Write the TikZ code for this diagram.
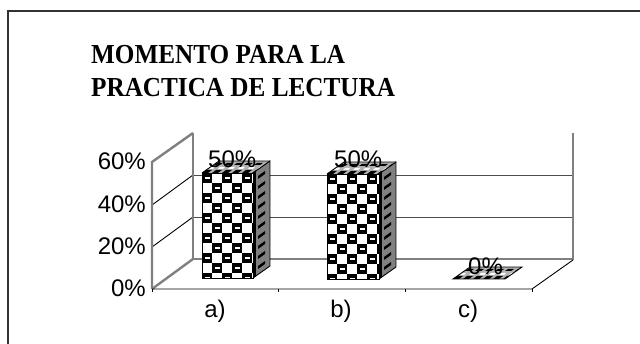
\documentclass[tikz,border=0pt]{standalone}
\usepackage{fontspec}
\setmainfont{Liberation Sans}
\newfontfamily\titlefont{Liberation Serif}
\newcommand{\chkface}[4]{%
  \begin{scope}
    \clip (#1,#2) rectangle (#3,#4);
    \fill[white] (#1,#2) rectangle (#3,#4);
    \foreach \i in {0,...,6}{%
      \foreach \j in {0,...,11}{%
        \pgfmathtruncatemacro{\cpar}{mod(\i+\j,2)}%
        \ifnum\cpar=0
          \fill[black] ({#1+\i*10},{#2+\j*10}) rectangle ++(10,10);
          \fill[white] ({#1+\i*10+3},{#2+\j*10+4}) rectangle ++(5,2);
        \fi
      }}
  \end{scope}}
\newcommand{\sideface}[3]{%
  \begin{scope}
    \clip (#1,#2) -- ++(17,-12) -- ({#1+17},{#3-12}) -- (#1,#3) -- cycle;
    \fill[gray] (#1,{#2-12}) rectangle ({#1+17},#3);
    \fill[black] (#1,{#2-12}) rectangle ({#1+3},#3);
    \foreach \j in {0,...,11}{%
      \fill[black] ({#1+5},{#2+\j*10+3}) -- ++(7,-5) -- ++(0,3) -- ++(-7,5) -- cycle;
    }
  \end{scope}}
\newcommand{\topface}[3]{%
  \begin{scope}
    \clip (#1,#3) -- (#2,#3) -- ++(17,-12) -- ({#1+17},{#3-12}) -- cycle;
    \fill[gray!60] (#1,{#3-12}) rectangle ({#2+17},#3);
    \foreach \i in {0,...,6}{%
      \fill[black] ({#1+\i*10},#3) -- ++(6,0) -- ++(4,-3) -- ++(-6,0) -- cycle;
      \fill[black] ({#1+\i*10+12},{#3-8}) -- ++(6,0) -- ++(3,-2) -- ++(-6,0) -- cycle;
      \fill[white] ({#1+\i*10+6},{#3-4}) -- ++(5,0) -- ++(2,-2) -- ++(-5,0) -- cycle;
    }
  \end{scope}}
\begin{document}
\begin{tikzpicture}[x=1pt,y=-1pt,
  wall/.style={draw=gray,line width=2.4pt},
  grid/.style={draw=black!70,line width=0.9pt},
  axisline/.style={draw=black,line width=0.9pt},
  barline/.style={draw=black,line width=0.9pt},
  lab/.style={font=\fontsize{24}{24}\selectfont,inner sep=0pt},
  ttl/.style={font=\titlefont\bfseries\fontsize{25.2}{25.2}\selectfont,inner sep=0pt}]
\useasboundingbox (0,0) rectangle (640,344);
\fill[white] (0,0) rectangle (640,344);
% frame
\draw[draw=black!80,line width=1.4pt] (8,344) -- (8,11) -- (640,11);
% title
\node[ttl,anchor=base west] (t1) at (91,64) {\scalebox{1}[1.09]{MOMENTO PARA LA}};
\node[ttl,anchor=base west] (t2) at (91,97) {\scalebox{1}[1.09]{PRACTICA DE LECTURA}};
% back wall grid
\draw[grid] (193,217) -- (573,217);
\draw[grid] (193,175) -- (573,175);
% left wall grid diagonals
\draw[grid,draw=black] (152,247) -- (193,217);
\draw[grid,draw=black] (152,205) -- (193,175);
% walls
\draw[wall] (193,259) -- (573,259);
\draw[wall] (573,133) -- (573,260);
\draw[wall] (193,133) -- (193,259);
\draw[wall] (152,289) -- (152,162) -- (193,133);
\draw[wall] (152,289) -- (193,259);
% floor
\draw[axisline] (152,289) -- (532,289) -- (573,260);
\foreach \x in {152,278,405,532}{\draw[axisline] (\x,289) -- (\x,292);}
% axis labels
\node[lab,anchor=base east] (y60) at (146,170) {60\%};
\node[lab,anchor=base east] (y40) at (146,213) {40\%};
\node[lab,anchor=base east] (y20) at (146,255) {20\%};
\node[lab,anchor=base east] (y0) at (146,297) {0\%};
% categories
\node[lab,anchor=base] (ca) at (215,318) {a)};
\node[lab,anchor=base] (cb) at (341,318) {b)};
\node[lab,anchor=base] (cc) at (468,318) {c)};
% bar a
\chkface{202}{173}{253}{278}
\sideface{253}{173}{278}
\topface{202}{253}{173}
\draw[barline] (202,173) rectangle (253,278);
\draw[barline] (253,278) -- ++(17,-12) -- ++(0,-105) -- ++(-17,12);
\draw[barline] (202,173) -- ++(17,-12) -- ++(51,0);
% bar b
\chkface{327}{174}{379}{279}
\sideface{379}{174}{279}
\topface{327}{379}{174}
\draw[barline] (327,174) rectangle (379,279);
\draw[barline] (379,279) -- ++(17,-12) -- ++(0,-105) -- ++(-17,12);
\draw[barline] (327,174) -- ++(17,-12) -- ++(52,0);
% bar c (0%)
\topface{453}{505}{279}
\draw[barline] (453,279) -- (505,279) -- ++(17,-12) -- (470,267) -- cycle;
% value labels
\node[lab,anchor=base west] (va) at (208,168) {50\%};
\node[lab,anchor=base west] (vb) at (334,168) {50\%};
\node[lab,anchor=base west] (vc) at (468,275) {0\%};
\end{tikzpicture}
\end{document}
